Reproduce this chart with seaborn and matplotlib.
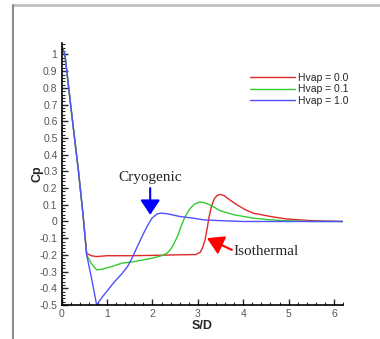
import numpy as np
import pandas as pd
import matplotlib
matplotlib.use("Agg")
import matplotlib.pyplot as plt
import seaborn as sns
from matplotlib.lines import Line2D
from matplotlib.ticker import MultipleLocator, FuncFormatter

# --- data ---
hvap_labels = ["Hvap = 0.0", "Hvap = 0.1", "Hvap = 1.0"]
line_colors = ["#e02828", "#33cc33", "#5050ff"]

s_red = [0.0, 0.07, 0.2, 0.37, 0.47, 0.55, 0.65, 0.77, 1.0, 1.5, 2.0, 2.5, 2.95,
         3.05, 3.1, 3.16, 3.2, 3.25, 3.3, 3.36, 3.42, 3.49, 3.58, 3.7, 3.86, 4.05,
         4.22, 4.6, 4.96, 5.5, 6.2]
cp_red = [1.05, 1.0, 0.69, 0.30, 0.04, -0.19, -0.205, -0.21, -0.205, -0.205, -0.203,
          -0.2, -0.198, -0.185, -0.16, -0.11, -0.05, 0.03, 0.09, 0.135, 0.155, 0.162,
          0.155, 0.13, 0.10, 0.07, 0.05, 0.03, 0.015, 0.005, 0.0]

s_green = [0.0, 0.07, 0.2, 0.37, 0.47, 0.55, 0.65, 0.77, 0.9, 1.1, 1.32, 1.6, 1.99,
           2.2, 2.32, 2.39, 2.46, 2.55, 2.63, 2.72, 2.82, 2.93, 3.05, 3.15, 3.3,
           3.49, 3.8, 4.22, 4.6, 4.9, 5.5, 6.2]
cp_green = [1.05, 1.0, 0.69, 0.30, 0.04, -0.2, -0.25, -0.29, -0.285, -0.27, -0.25,
            -0.24, -0.22, -0.205, -0.19, -0.17, -0.14, -0.09, -0.03, 0.03, 0.075,
            0.105, 0.117, 0.112, 0.095, 0.065, 0.04, 0.02, 0.01, 0.005, 0.0, 0.0]

s_blue = [0.0, 0.07, 0.2, 0.37, 0.47, 0.55, 0.65, 0.77, 0.9, 1.02, 1.15, 1.32, 1.45,
          1.54, 1.65, 1.77, 1.88, 1.99, 2.1, 2.2, 2.35, 2.6, 2.9, 3.12, 3.5, 4.0,
          5.0, 6.2]
cp_blue = [1.05, 1.0, 0.69, 0.30, 0.04, -0.2, -0.33, -0.5, -0.45, -0.41, -0.365,
           -0.315, -0.27, -0.225, -0.16, -0.09, -0.03, 0.02, 0.045, 0.05, 0.045, 0.03,
           0.02, 0.01, 0.005, 0.0, 0.0, 0.0]

df = pd.concat([
    pd.DataFrame({"S/D": s_red, "Cp": cp_red, "Hvap": hvap_labels[0]}),
    pd.DataFrame({"S/D": s_green, "Cp": cp_green, "Hvap": hvap_labels[1]}),
    pd.DataFrame({"S/D": s_blue, "Cp": cp_blue, "Hvap": hvap_labels[2]}),
], ignore_index=True)

sns.set_style("ticks")
plt.rcParams['font.family'] = ['Liberation Sans', 'DejaVu Sans']

fig = plt.figure(figsize=(3.8, 3.39), dpi=100)
ax = fig.add_axes([0.1624, 0.1003, 0.7403, 0.7735])

sns.lineplot(data=df, x="S/D", y="Cp", hue="Hvap", hue_order=hvap_labels,
             palette=line_colors, sort=False, estimator=None, lw=1.0, ax=ax)

ax.set_xlim(0, 6.2)
ax.set_ylim(-0.5, 1.07)
ax.xaxis.set_major_locator(MultipleLocator(1))
ax.xaxis.set_minor_locator(MultipleLocator(0.2))
ax.yaxis.set_major_locator(MultipleLocator(0.1))
ax.yaxis.set_minor_locator(MultipleLocator(0.02))
ax.yaxis.set_major_formatter(FuncFormatter(lambda v, p: f"{round(v, 1) + 0:g}"))
ax.tick_params(which="major", direction="in", length=4, width=1.0,
               labelsize=7.5, labelcolor="#555555", pad=3)
ax.tick_params(which="minor", direction="in", length=2, width=0.8)
sns.despine(ax=ax)
for sp in ["left", "bottom"]:
    ax.spines[sp].set_linewidth(1.2)
    ax.spines[sp].set_color("black")

ax.set_xlabel("S/D", fontsize=9, fontweight="bold")
ax.xaxis.set_label_coords(0.5, -0.058)
ax.set_ylabel("Cp", fontsize=9, fontweight="bold", va="center")
ax.yaxis.set_label_coords(-0.086, 0.5)

handles, labels = ax.get_legend_handles_labels()
ax.legend(handles, labels, loc="upper left", bbox_to_anchor=(250 / 380, 1 - 73 / 339),
          bbox_transform=fig.transFigure, frameon=False, fontsize=7.5,
          handlelength=4.3, handletextpad=0.3, labelspacing=0.12,
          borderpad=0, borderaxespad=0)

# annotations
ax.annotate("", xy=(1.95, 0.04), xytext=(1.95, 0.2),
            arrowprops=dict(arrowstyle="-|>,head_length=0.9,head_width=0.6",
                            color="#0000ff", lw=1.5, mutation_scale=10,
                            shrinkA=0, shrinkB=0))
ax.text(1.95, 0.265, "Cryogenic", ha="center", va="center", fontsize=11,
        family=["Liberation Serif"])
ax.annotate("", xy=(3.2, -0.10), xytext=(3.75, -0.17),
            arrowprops=dict(arrowstyle="-|>,head_length=1.0,head_width=0.6",
                            color="#ff0000", lw=1.5, mutation_scale=10,
                            shrinkA=0, shrinkB=0))
ax.text(3.78, -0.18, "Isothermal", ha="left", va="center", fontsize=11,
        family=["Liberation Serif"])

# outer frame of the original figure
fig.add_artist(Line2D([13 / 380, 1], [1 - 5 / 339, 1 - 5 / 339],
                      transform=fig.transFigure, color="#c0c0c0", lw=2))
fig.add_artist(Line2D([13 / 380, 13 / 380], [0, 1 - 5 / 339],
                      transform=fig.transFigure, color="#8c8c8c", lw=1.5))

fig.savefig("out.png", dpi=100)
